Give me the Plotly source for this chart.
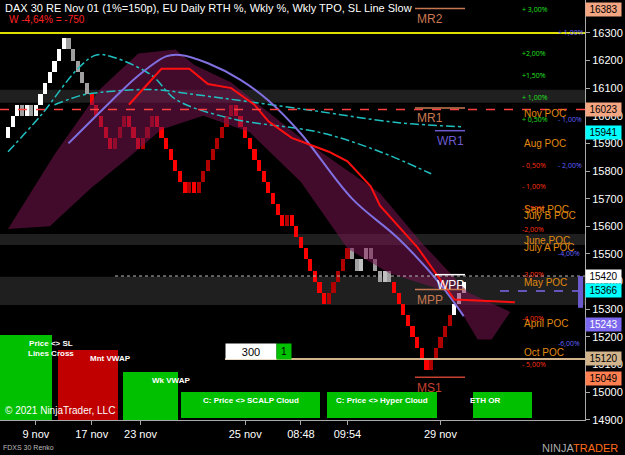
import plotly.graph_objects as go

# renko brick closes (brick size 40)
closes = [15960, 16000, 16040, 16000, 16040, 16000, 16040, 16080, 16120, 16160, 16200, 16240, 16280,
          16240, 16200, 16160, 16120, 16080,
          16040, 16000, 15960, 15920, 15880, 15920, 15960, 16000, 15960, 15920, 15880, 15920, 15960, 16000,
          15960, 15920, 15880, 15840, 15800, 15760, 15720, 15760, 15720,
          15760, 15800, 15840, 15880, 15920, 15960, 16000, 16040,
          16000, 15960, 15920, 15880, 15840, 15800, 15760, 15720, 15680, 15640, 15600, 15640,
          15600, 15560, 15520, 15480, 15440, 15400, 15360, 15320,
          15360, 15400, 15440, 15480, 15520, 15480, 15440, 15480, 15520, 15480, 15440, 15400, 15440,
          15400, 15360, 15320, 15280, 15240, 15200, 15160, 15120, 15080,
          15120, 15160, 15200, 15240, 15280, 15320, 15360, 15400]
red_start = 18
gray_zone = (74, 82)

# moving averages (x in brick index, price)
ma1_x = [0, 7, 15, 19, 23, 31, 36, 48, 67, 80, 91]
ma1_y = [15870, 16000, 16170, 16220, 16210, 16145, 16060, 15990, 15940, 15870, 15790]
ma2_x = [10, 16, 20, 31, 41, 63, 84, 98]
ma2_y = [16040, 16075, 16085, 16095, 16075, 16025, 15975, 15960]
sma_x = [13, 22, 28, 34, 37, 43, 50, 56, 63, 74, 84, 93, 98]
sma_y = [15900, 16050, 16145, 16215, 16220, 16190, 16130, 16055, 15935, 15700, 15555, 15390, 15275]
cloud_x = [26, 33, 39, 43, 48, 53, 56, 61, 69, 73, 78, 80, 88, 96, 109]
cloud_y = [16040, 16170, 16170, 16115, 16100, 16040, 15980, 15920, 15870, 15835, 15745, 15675, 15525, 15335, 15325]
fill_x = [0, 10, 20, 28, 36, 40, 48, 63, 80, 89, 99, 108, 104, 101, 95, 82, 73, 63, 52, 42, 33, 26, 18, 9, 0]
fill_y = [15590, 15860, 16100, 16225, 16240, 16185, 16120, 15920, 15720, 15540, 15360, 15290, 15190, 15190, 15360,
          15430, 15520, 15760, 15940, 16000, 15950, 15850, 15740, 15600, 15590]

pct_green = [("+ 3,00%", 16383), ("+2,00%", 16225), ("+1,50%", 16145), ("+ 1,00%", 16065), ("+ 0,50%", 15985)]
pct_red = [("- 0,50%", 15820), ("- 1,00%", 15745), ("-1,50%", 15665), ("-2,00%", 15590), ("-3,00%", 15425),
           ("-4,00%", 15265), ("- 5,00%", 15100)]
pct_blue = [("+ 1,00%", 16300), ("- 1,00%", 15985), ("- 2,00%", 15820), ("-4,00%", 15500), ("-6,00%", 15175)]
pocs = [("Nov POC", 16010), ("Aug POC", 15900), ("Sept POC", 15660), ("July B POC", 15638), ("June POC", 15550),
        ("July A POC", 15522), ("May POC", 15395), ("April POC", 15248), ("Oct POC", 15145)]
pivots = [("MR2", 16383, "#c87850"), ("MR1", 16023, "#c87850"), ("WR1", 15941, "#6a5acd"),
          ("WPP", 15420, "#ffffff"), ("MPP", 15366, "#c87850"), ("MS1", 15049, "#c84030")]
price_tags = [(16383, "#f4a582", "black"), (16023, "#f4a582", "black"), (15941, "#00ffff", "black"),
              (15420, "#ffffff", "black"), (15366, "#00ffff", "black"), (15243, "#7b68ee", "white"),
              (15120, "#d2b48c", "black"), (15049, "#ff7f50", "black")]
xtick_idx = [6, 18, 28.5, 51, 63, 73, 93]
xtick_text = ["9 nov", "17 nov", "23 nov", "25 nov", "08:48", "09:54", "29 nov"]

def ix(px):
    return (px - 8) / 4.65

fig = go.Figure()
fig.add_trace(go.Scatter(x=fill_x, y=fill_y, fill="toself", fillcolor="rgba(120,20,80,0.55)",
                         line=dict(width=0), mode="lines", hoverinfo="skip"))

opens = [closes[0] - 40] + closes[:-1]
colors = []
for i, (o, c) in enumerate(zip(opens, closes)):
    up = c > o
    if i < red_start:
        colors.append("#ffffff" if up else "#a0a0a0")
    elif gray_zone[0] <= i <= gray_zone[1]:
        colors.append("#a0a0a0" if not up else "#c0c0c0")
    elif i >= len(closes) - 3:
        colors.append("#ffffff")
    else:
        colors.append("#b00000" if up else "#ff0000")
fig.add_trace(go.Bar(x=list(range(len(closes))), base=[min(o, c) for o, c in zip(opens, closes)],
                     y=[abs(c - o) for o, c in zip(opens, closes)], marker_color=colors,
                     marker_line_width=0, width=0.9))

fig.add_trace(go.Scatter(x=ma1_x, y=ma1_y, mode="lines", line=dict(color="#20c0c0", width=1.5, dash="dashdot"),
                         line_shape="spline"))
fig.add_trace(go.Scatter(x=ma2_x, y=ma2_y, mode="lines", line=dict(color="#20c0c0", width=1.5, dash="dashdot"),
                         line_shape="spline"))
fig.add_trace(go.Scatter(x=sma_x, y=sma_y, mode="lines", line=dict(color="#8070e0", width=2), line_shape="spline"))
fig.add_trace(go.Scatter(x=cloud_x, y=cloud_y, mode="lines", line=dict(color="#ff1010", width=2)))

# bands and lines
for y0, y1 in [(16047, 16094), (15532, 15572), (15315, 15417)]:
    fig.add_shape(type="rect", xref="paper", x0=0, x1=1, y0=y0, y1=y1, fillcolor="rgba(90,90,90,0.35)",
                  line_width=0, layer="below")
fig.add_shape(type="line", xref="paper", x0=0, x1=1, y0=16300, y1=16300, line=dict(color="#e0e000", width=2))
fig.add_shape(type="line", xref="paper", x0=0, x1=1, y0=16023, y1=16023, line=dict(color="#ff4040", width=1.5, dash="dash"))
fig.add_shape(type="line", x0=ix(115), x1=ix(585), y0=15420, y1=15420, line=dict(color="#bbbbbb", width=1, dash="dot"))
fig.add_shape(type="line", x0=ix(500), x1=ix(580), y0=15366, y1=15366, line=dict(color="#7b68ee", width=1.5, dash="dash"))
fig.add_shape(type="line", x0=ix(225), x1=ix(585), y0=15120, y1=15120, line=dict(color="#d2b48c", width=2))
fig.add_shape(type="rect", x0=ix(578), x1=ix(583), y0=15305, y1=15420, fillcolor="#6a5acd", line_width=0)

for name, p, col in pivots:
    x0 = 435 if name in ("WR1", "WPP") else 415
    fig.add_shape(type="line", x0=ix(x0), x1=ix(465), y0=p + 5, y1=p + 5, line=dict(color=col, width=1.5))
    fig.add_annotation(x=ix(x0), y=p, text=name, showarrow=False, xanchor="left", yanchor="top",
                       font=dict(color=col, size=12, family="Arial"))

for t, p in pct_green:
    fig.add_annotation(x=ix(520), y=p, text=t, showarrow=False, xanchor="left", font=dict(color="#20e020", size=7))
for t, p in pct_red:
    fig.add_annotation(x=ix(520), y=p, text=t, showarrow=False, xanchor="left", font=dict(color="#ff3010", size=7))
for t, p in pct_blue:
    fig.add_annotation(x=ix(556), y=p, text=t, showarrow=False, xanchor="left", font=dict(color="#6060ff", size=7))
for t, p in pocs:
    fig.add_annotation(x=ix(522), y=p, text=t, showarrow=False, xanchor="left",
                       font=dict(color="#e08a10", size=10, family="Arial"))

for p, bg, fg in price_tags:
    fig.add_annotation(xref="paper", x=1.0, y=p, text=str(p), showarrow=False, xanchor="left",
                       bgcolor=bg, font=dict(color=fg, size=10, family="Arial"), borderpad=1, width=33)

# indicator boxes (pixel coords)
W, H = 585, 420
boxes = [(0, 52, 335, 420, "#00c000", "Price <> SL<br>Lines Cross"),
         (58, 118, 350, 420, "#c00000", "Mnt VWAP"),
         (123, 178, 372, 420, "#00c000", "Wk VWAP"),
         (181, 320, 392, 418, "#00c000", "C: Price <> SCALP Cloud"),
         (327, 437, 392, 418, "#00c000", "C: Price <> Hyper Cloud"),
         (473, 532, 392, 418, "#00c000", "ETH OR")]
for x0, x1, y0, y1, col, t in boxes:
    fig.add_shape(type="rect", xref="paper", yref="paper", x0=x0 / W, x1=x1 / W, y0=1 - y1 / H, y1=1 - y0 / H,
                  fillcolor=col, line_width=0, layer="below")
    fig.add_annotation(xref="paper", yref="paper", x=(x0 + x1) / 2 / W, y=1 - (y0 + 2) / H, text="<b>" + t + "</b>",
                       showarrow=False, yanchor="top", font=dict(color="white", size=8, family="Arial"))
fig.add_annotation(xref="paper", yref="paper", x=225 / W, y=1 - 359.5 / H, text="300", showarrow=False,
                   xanchor="left", bgcolor="white", width=48, height=13,
                   font=dict(color="black", size=11, family="Arial"))
fig.add_annotation(xref="paper", yref="paper", x=276 / W, y=1 - 359.5 / H, text="1", showarrow=False,
                   xanchor="left", bgcolor="#00c000", width=12, height=13,
                   font=dict(color="black", size=10, family="Arial"))

fig.add_annotation(xref="paper", yref="paper", x=0.005, y=1, text="DAX 30 RE Nov 01 (1%=150p), EU Daily RTH %, Wkly %, Wkly TPO, SL Line Slow",
                   showarrow=False, xanchor="left", yanchor="top", font=dict(color="white", size=11, family="Arial"))
fig.add_annotation(xref="paper", yref="paper", x=0.012, y=1 - 12 / H, text="W -4,64% = -750",
                   showarrow=False, xanchor="left", yanchor="top", font=dict(color="#ff2020", size=10, family="Arial"))
fig.add_annotation(xref="paper", yref="paper", x=0.005, y=1 - 403 / H, text="© 2021 NinjaTrader, LLC",
                   showarrow=False, xanchor="left", yanchor="top", font=dict(color="white", size=10, family="Arial"))
fig.add_annotation(xref="paper", yref="paper", x=0.002, y=-0.066, text="FDXS 30 Renko", showarrow=False,
                   xanchor="left", yanchor="middle", font=dict(color="#bbbbbb", size=7, family="Arial"))
fig.add_annotation(xref="paper", yref="paper", x=1.06, y=-0.066, text="NINJA<span style='color:#ff6a1a'>TRADER</span>",
                   showarrow=False, xanchor="right", yanchor="middle", font=dict(color="#aaaaaa", size=11, family="Arial"))

fig.update_layout(
    width=625, height=455, paper_bgcolor="black", plot_bgcolor="black", showlegend=False,
    margin=dict(l=0, r=40, t=0, b=35), bargap=0,
    xaxis=dict(range=[ix(0), ix(585)], tickvals=xtick_idx, ticktext=xtick_text, showgrid=False, zeroline=False,
               ticks="outside", ticklen=4, tickcolor="#aaaaaa", tickfont=dict(color="white", size=11, family="Arial"),
               showline=True, linecolor="#aaaaaa"),
    yaxis=dict(range=[14899, 16419], side="right", dtick=100, showgrid=False, zeroline=False, ticks="outside",
               ticklen=4, tickcolor="#aaaaaa", tickfont=dict(color="white", size=11, family="Arial"),
               showline=True, linecolor="#aaaaaa", tickformat="d"),
)
fig.write_html("out.html", config={"displayModeBar": False}, post_script="document.body.style.margin='0';")
